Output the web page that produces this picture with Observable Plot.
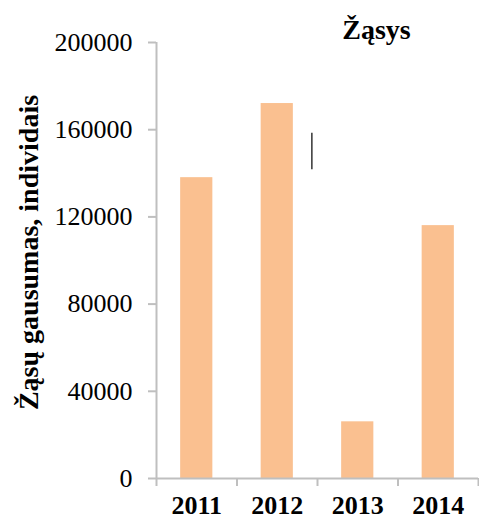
<!DOCTYPE html>
<html><head><meta charset="utf-8">
<script src="https://cdn.jsdelivr.net/npm/d3@7"></script>
<script src="https://cdn.jsdelivr.net/npm/@observablehq/plot@0.6"></script>
<style>body{margin:0;background:#fff}</style>
</head><body><div id="chart"></div>
<script>
const years = ["2011", "2012", "2013", "2014"];
const counts = [138000, 172000, 26000, 116000];
const yTicks = [0, 40000, 80000, 120000, 160000, 200000];
const chartTitle = "Žąsys";
const yTitle = "Žąsų gausumas, individais";
// small stray vertical stroke visible in the original picture
const markX = [1.93];
const markY1 = [141600];
const markY2 = [158400];

const data = years.map((year, i) => ({year, i, count: counts[i]}));
const boundaries = d3.range(years.length + 1);
const centers = years.map((_, i) => i + 0.5);
const strokeMarks = markX.map((x, i) => ({x, y1: markY1[i], y2: markY2[i]}));

const axisGray = "#bfbfbf";
const chart = Plot.plot({
  width: 479, height: 520,
  marginLeft: 156, marginRight: 1, marginTop: 42, marginBottom: 42,
  style: {fontFamily: "'Liberation Serif', 'Times New Roman', serif", background: "#fff", color: "#000"},
  x: {type: "linear", domain: [0, years.length], axis: null},
  y: {domain: [0, 200000], axis: null},
  marks: [
    Plot.rectY(data, {x1: d => d.i + 0.3, x2: d => d.i + 0.7, y: "count", fill: "#FAC090"}),
    Plot.ruleX([0], {stroke: axisGray, strokeWidth: 2}),
    Plot.ruleY([0], {stroke: axisGray, strokeWidth: 2}),
    Plot.axisY({ticks: yTicks, tickSize: 8, tickPadding: 16, tickFormat: d => String(d),
      stroke: axisGray, strokeWidth: 2, fill: "#000", fontSize: 26, label: null}),
    Plot.axisX({ticks: boundaries, tickSize: 8, tickFormat: () => "", stroke: axisGray, strokeWidth: 2, label: null}),
    Plot.axisX({ticks: centers, tickSize: 0, tickPadding: 17, tickFormat: v => years[Math.floor(v)],
      fill: "#000", fontSize: 26, fontWeight: "bold", label: null}),
    Plot.ruleX(strokeMarks, {x: "x", y1: "y1", y2: "y2", stroke: "#333", strokeWidth: 1.5}),
    Plot.text([chartTitle], {frameAnchor: "top", dx: 59, dy: -4, lineAnchor: "bottom",
      fontSize: 28, fontWeight: "bold", fill: "#000"}),
    Plot.text([yTitle], {frameAnchor: "left", dx: -127, dy: -8, rotate: -90, textAnchor: "middle",
      fontSize: 28, fontWeight: "bold", fill: "#000"})
  ]
});
document.getElementById("chart").appendChild(chart);
</script>
</body></html>
